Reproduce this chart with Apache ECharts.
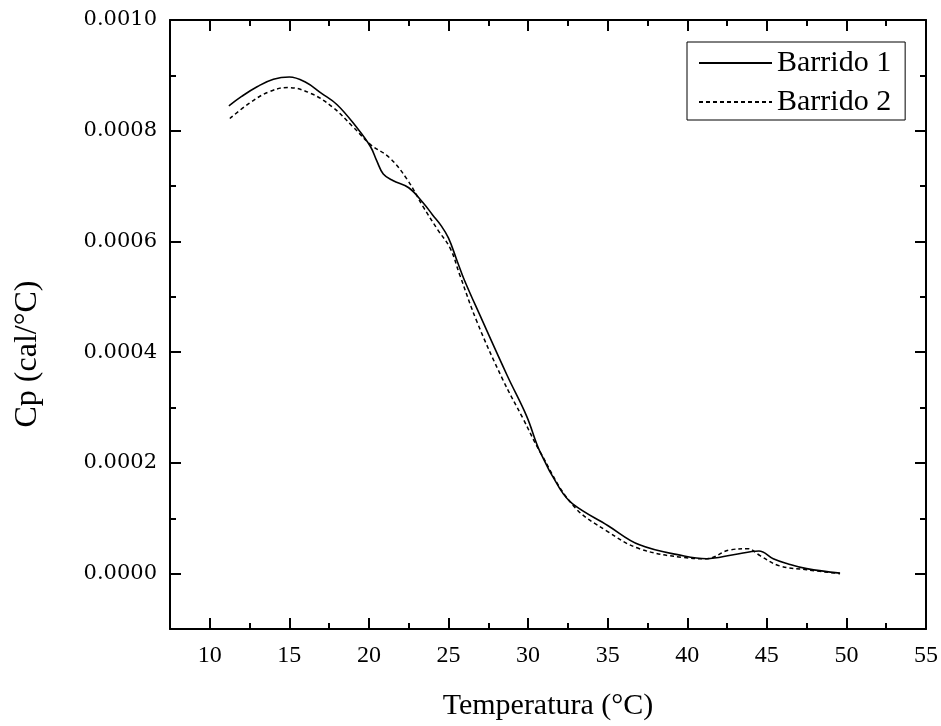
<!DOCTYPE html>
<html>
<head>
<meta charset="utf-8">
<script src="https://cdn.jsdelivr.net/npm/echarts@6/dist/echarts.min.js"></script>
<style>
  html, body { margin: 0; padding: 0; background: #fff; }
  #chart { width: 941px; height: 726px; }
</style>
</head>
<body>
<div id="chart"></div>
<script>
// Heat capacity scans (Cp vs temperature)
var temp1 = [11.2, 12.0, 13.0, 14.0, 15.0, 16.0, 17.0, 18.0, 19.2, 20.1, 20.5, 20.9, 21.5, 22.5, 23.4, 24.0, 24.5, 25.0, 25.5, 26.0, 27.0, 28.7, 29.9, 30.75, 32.0, 32.8, 35.0, 37.0, 39.8, 41.2, 42.9, 44.5, 45.4, 46.3, 47.5, 49.6];
var cp1   = [0.000845, 0.000862, 0.000880, 0.000893, 0.000897, 0.000888, 0.000868, 0.000847, 0.000807, 0.000771, 0.000745, 0.000722, 0.000710, 0.000697, 0.000670, 0.000648, 0.000630, 0.000606, 0.000568, 0.000530, 0.000465, 0.000357, 0.000285, 0.000220, 0.000153, 0.000126, 0.000087, 0.000052, 0.000032, 0.000027, 0.000034, 0.000041, 0.000027, 0.000018, 0.000009, 0.000001];

var temp2 = [11.26, 12.5, 13.7, 14.9, 16.3, 17.7, 19.0, 20.1, 21.3, 22.4, 23.4, 24.3, 25.1, 25.7, 26.8, 28.4, 29.7, 30.75, 32.8, 35.0, 37.0, 39.8, 41.2, 42.7, 43.8, 44.6, 45.8, 47.5, 49.6];
var cp2   = [0.000822, 0.000850, 0.000870, 0.000878, 0.000868, 0.000843, 0.000807, 0.000775, 0.000751, 0.000712, 0.000663, 0.000622, 0.000588, 0.000540, 0.000454, 0.000351, 0.000279, 0.000220, 0.000124, 0.000076, 0.000045, 0.000029, 0.000027, 0.000043, 0.000045, 0.000032, 0.000014, 0.000007, 0.000000];

var seriesNames = ['Barrido 1', 'Barrido 2'];

// Tick positions
var xMajor = [10, 15, 20, 25, 30, 35, 40, 45, 50, 55];
var xMinor = [12.5, 17.5, 22.5, 27.5, 32.5, 37.5, 42.5, 47.5, 52.5];
var yMajor = [0, 0.0002, 0.0004, 0.0006, 0.0008, 0.0010];
var yMinor = [-0.0001, 0.0001, 0.0003, 0.0005, 0.0007, 0.0009];

var X_MIN = 7.5, X_MAX = 55, Y_MIN = -0.0001, Y_MAX = 0.001;
var FONT = '"Liberation Serif", "Times New Roman", serif';
var FONT_Y = '"DejaVu Serif", serif';

function pairs(xs, ys) {
  return xs.map(function (x, i) { return [x, ys[i]]; });
}

function xAx(position, ticks, len, labels, lineShow) {
  return {
    type: 'value', position: position, min: X_MIN, max: X_MAX,
    axisLine: { show: lineShow, onZero: false, lineStyle: { color: '#000', width: 2 } },
    axisTick: { show: true, inside: true, length: len, customValues: ticks, lineStyle: { color: '#000', width: 2 } },
    axisLabel: labels ? { show: true, customValues: ticks, color: '#000', fontFamily: FONT, fontSize: 24, margin: 15 } : { show: false },
    splitLine: { show: false }
  };
}

function yAx(position, ticks, len, labels, lineShow) {
  return {
    type: 'value', position: position, min: Y_MIN, max: Y_MAX,
    axisLine: { show: lineShow, onZero: false, lineStyle: { color: '#000', width: 2 } },
    axisTick: { show: true, inside: true, length: len, customValues: ticks, lineStyle: { color: '#000', width: 2 } },
    axisLabel: labels ? {
      show: true, customValues: ticks, color: '#000', fontFamily: FONT_Y, fontSize: 21, margin: 13,
      formatter: function (v) { return v.toFixed(4); }
    } : { show: false },
    splitLine: { show: false }
  };
}

var xAxes = [
  xAx('bottom', xMajor, 11, true, true),
  xAx('bottom', xMinor, 6, false, false),
  xAx('top', xMajor, 11, false, true),
  xAx('top', xMinor, 6, false, false)
];
xAxes[0].name = 'Temperatura (°C)';
xAxes[0].nameLocation = 'middle';
xAxes[0].nameGap = 62;
xAxes[0].nameTextStyle = { color: '#000', fontFamily: FONT, fontSize: 30 };

var yAxes = [
  yAx('left', yMajor, 11, true, true),
  yAx('left', yMinor, 6, false, false),
  yAx('right', yMajor, 11, false, true),
  yAx('right', yMinor, 6, false, false)
];

var chart = echarts.init(document.getElementById('chart'), null, { renderer: 'canvas' });
chart.setOption({
  animation: false,
  backgroundColor: '#fff',
  grid: { left: 170, right: 15, top: 20, bottom: 96, containLabel: false },
  xAxis: xAxes,
  yAxis: yAxes,
  legend: {
    left: 687, top: 42, orient: 'vertical',
    data: seriesNames,
    itemWidth: 73, itemHeight: 14, itemGap: 9,
    itemStyle: { opacity: 0, borderWidth: 0 },
    padding: [6, 14, 3, 11],
    borderColor: '#000', borderWidth: 1, borderRadius: 0,
    backgroundColor: '#fff',
    textStyle: { color: '#000', fontFamily: FONT, fontSize: 30, lineHeight: 30 }
  },
  graphic: [{
    type: 'text',
    x: 28, y: 354, rotation: Math.PI / 2,
    style: { text: 'Cp (cal/°C)', fill: '#000', font: '32px ' + FONT, textAlign: 'center', textVerticalAlign: 'middle' }
  }],
  series: [
    {
      name: seriesNames[0], type: 'line', xAxisIndex: 0, yAxisIndex: 0,
      data: pairs(temp1, cp1), smooth: 0.4, symbol: 'none',
      lineStyle: { color: '#000', width: 1.6, type: 'solid' },
      itemStyle: { color: '#000' }
    },
    {
      name: seriesNames[1], type: 'line', xAxisIndex: 0, yAxisIndex: 0,
      data: pairs(temp2, cp2), smooth: 0.4, symbol: 'none',
      lineStyle: { color: '#000', width: 1.5, type: [4, 3] },
      itemStyle: { color: '#000' }
    }
  ]
});
</script>
</body>
</html>
